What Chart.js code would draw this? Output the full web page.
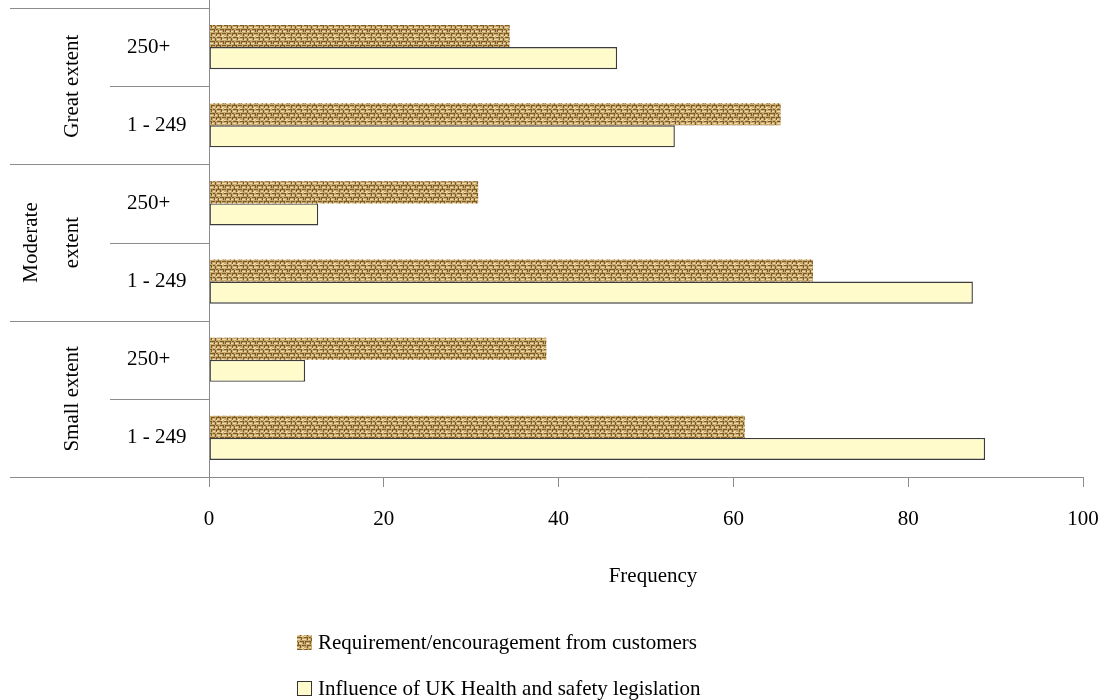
<!DOCTYPE html>
<html>
<head>
<meta charset="utf-8">
<script src="https://cdn.jsdelivr.net/npm/chart.js@4/dist/chart.umd.min.js"></script>
<style>
  html, body { margin: 0; padding: 0; background: #ffffff; }
  #wrap { position: relative; width: 1104px; height: 700px; }
</style>
</head>
<body>
<div id="wrap"><canvas id="chart" width="1104" height="700"></canvas></div>
<script>
// Firm size bands, grouped by the extent of influence
const sizeBands = ['250+', '1 - 249', '250+', '1 - 249', '250+', '1 - 249'];
const groups = [['Great extent'], ['Moderate', 'extent'], ['Small extent']];
const customers = [34.4, 65.4, 30.8, 69.1, 38.6, 61.3];
const legislation = [46.7, 53.3, 12.5, 87.4, 11.0, 88.8];
const seriesNames = ['Requirement/encouragement from customers', 'Influence of UK Health and safety legislation'];
const xTicks = [0, 20, 40, 60, 80, 100];
const axisTitle = 'Frequency';

const FONT = '"Liberation Serif", "Times New Roman", serif';
const FSIZE = 21;
const LINE = '#8c8c8c';

// Woven burlap texture used for the customer series
function burlap() {
  const raw = document.createElement('canvas');
  raw.width = 16; raw.height = 12;
  const g = raw.getContext('2d');
  g.fillStyle = '#c8a96d';
  g.fillRect(0, 0, 16, 12);
  const light = [[0,3,2,1],[4,3,2,1],[9,3,3,1],[14,3,2,1],[2,7,3,1],[7,7,2,1],[11,7,3,1],[5,11,2,1],[9,11,2,1],[14,11,2,1],[0,0,2,1],[8,0,1,1],[13,0,2,1]];
  const dark = [[0,1,3,1],[5,1,2,1],[9,1,4,1],[2,5,4,1],[8,5,2,1],[12,5,3,1],[0,9,2,1],[4,9,3,1],[9,9,4,1],[14,9,2,1],
                [3,1,1,3],[7,2,1,3],[13,1,1,3],[1,5,1,3],[6,5,1,3],[10,6,1,3],[15,5,1,3],[3,9,1,3],[8,9,1,3],[12,10,1,2]];
  g.fillStyle = '#eedcad';
  light.forEach(r => g.fillRect(...r));
  g.fillStyle = '#7e5a26';
  dark.forEach(r => g.fillRect(...r));
  // soften the weave a little
  const soft = document.createElement('canvas');
  soft.width = 16; soft.height = 12;
  const s = soft.getContext('2d');
  for (const dx of [-16, 0, 16]) for (const dy of [-12, 0, 12]) {
    s.save(); s.filter = 'blur(0.45px)'; s.drawImage(raw, dx, dy); s.restore();
  }
  return document.getElementById('chart').getContext('2d').createPattern(soft, 'repeat');
}
const weave = burlap();
const cream = '#fffbca';

const decor = {
  id: 'decor',
  afterDraw(chart) {
    const ctx = chart.ctx;
    const a = chart.chartArea;
    const y = chart.scales.y;
    const half = (y.getPixelForValue(1) - y.getPixelForValue(0)) / 2;
    ctx.save();
    ctx.strokeStyle = LINE;
    ctx.lineWidth = 1;
    // vertical axis line
    ctx.beginPath(); ctx.moveTo(a.left + 0.5, 0); ctx.lineTo(a.left + 0.5, a.bottom + 10); ctx.stroke();
    // group separators and inner separators
    for (let i = 0; i <= sizeBands.length; i++) {
      const py = Math.round(y.getPixelForValue(i) - half) + 0.5;
      const x0 = (i % 2 === 0) ? 10 : 110;
      ctx.beginPath(); ctx.moveTo(x0, py); ctx.lineTo(a.left, py); ctx.stroke();
    }
    // group labels, rotated
    ctx.fillStyle = '#000';
    ctx.font = FSIZE + 'px ' + FONT;
    ctx.textAlign = 'center';
    ctx.textBaseline = 'middle';
    groups.forEach((lines, gi) => {
      const cy = (y.getPixelForValue(gi * 2) + y.getPixelForValue(gi * 2 + 1)) / 2;
      const xs = lines.length === 1 ? [72] : [31, 72];
      lines.forEach((t, li) => {
        ctx.save();
        ctx.translate(xs[li], cy);
        ctx.rotate(-Math.PI / 2);
        ctx.fillText(t, 0, 0);
        ctx.restore();
      });
    });
    // axis title
    ctx.fillText(axisTitle, (a.left + a.right) / 2 + 7, 576);
    // legend
    ctx.textAlign = 'left';
    const items = [{ fill: weave, border: null, y: 642 }, { fill: cream, border: '#333', y: 688 }];
    items.forEach((it, i) => {
      ctx.fillStyle = it.fill;
      ctx.fillRect(297, it.y - 7, 15, 15);
      if (it.border) { ctx.strokeStyle = it.border; ctx.strokeRect(297.5, it.y - 6.5, 14, 14); }
      ctx.fillStyle = '#000';
      ctx.fillText(seriesNames[i], 318, it.y + 1);
    });
    ctx.restore();
  }
};

new Chart(document.getElementById('chart'), {
  type: 'bar',
  data: {
    labels: sizeBands,
    datasets: [
      { label: seriesNames[0], data: customers, backgroundColor: weave, borderWidth: 0 },
      { label: seriesNames[1], data: legislation, backgroundColor: cream, borderColor: '#3c3c3c', borderWidth: 1.4, borderSkipped: false }
    ]
  },
  plugins: [decor],
  options: {
    indexAxis: 'y',
    responsive: false,
    animation: false,
    devicePixelRatio: 1,
    layout: { padding: { top: 8, right: 21, left: 127, bottom: 0 } },
    datasets: { bar: { categoryPercentage: 0.565, barPercentage: 1.0 } },
    plugins: { legend: { display: false }, tooltip: { enabled: false } },
    scales: {
      x: {
        min: 0, max: 100,
        afterBuildTicks(s) { s.ticks = xTicks.map(v => ({ value: v })); },
        afterFit(s) { s.height = 223; s.paddingLeft = 0; s.paddingRight = 0; },
        grid: { drawOnChartArea: false, drawTicks: true, tickLength: 10, color: LINE },
        border: { color: LINE },
        ticks: { color: '#000', padding: 20, font: { family: FONT, size: FSIZE } }
      },
      y: {
        afterFit(s) { s.width = 82; s.paddingTop = 0; s.paddingBottom = 0; },
        grid: { display: false },
        border: { display: false },
        ticks: { color: '#000', crossAlign: 'far', padding: 0, font: { family: FONT, size: FSIZE } }
      }
    }
  }
});
</script>
</body>
</html>
